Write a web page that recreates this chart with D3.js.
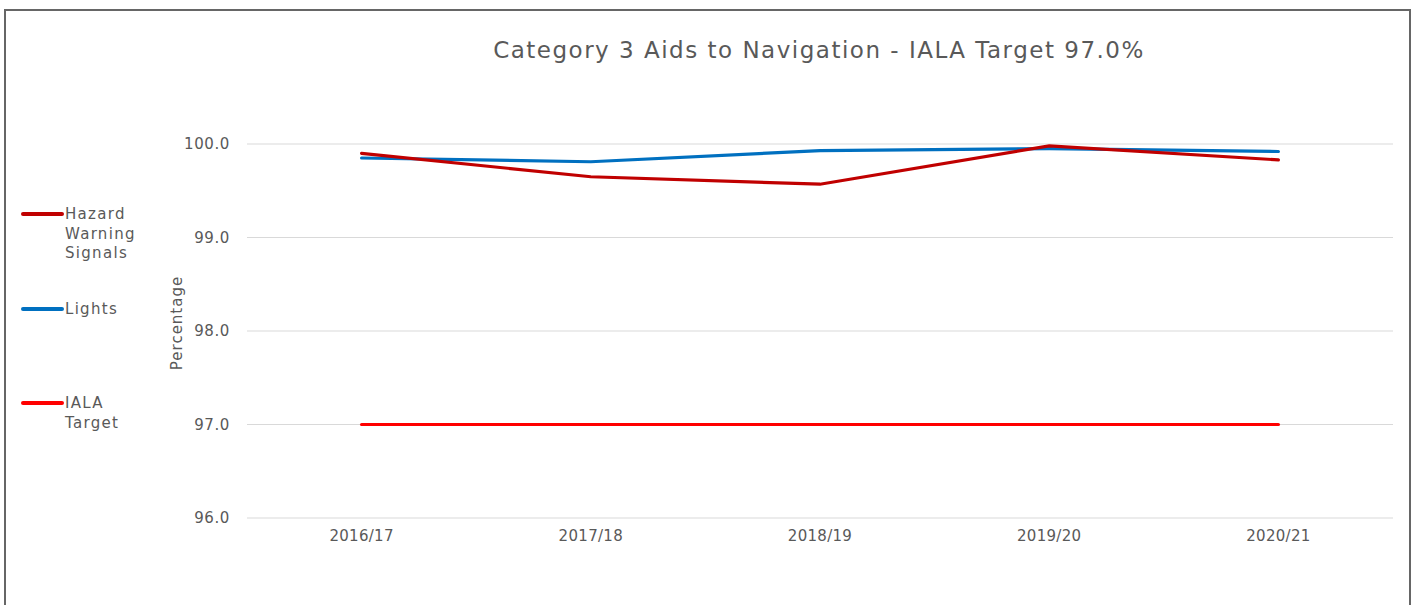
<!DOCTYPE html>
<html>
<head>
<meta charset="utf-8">
<script src="https://cdn.jsdelivr.net/npm/d3@7"></script>
<style>
  body { margin: 0; background: #fff; }
  text { font-family: "DejaVu Sans", sans-serif; fill: #595959; }
</style>
</head>
<body>
<div class="chart"></div>
<script>
var width = 1415,
    height = 605;

var years = ["2016/17", "2017/18", "2018/19", "2019/20", "2020/21"];
var hazard = [99.90, 99.65, 99.57, 99.98, 99.83];
var lights = [99.85, 99.81, 99.93, 99.95, 99.92];
var iala = [97.0, 97.0, 97.0, 97.0, 97.0];
var yTicks = [96, 97, 98, 99, 100];

var series = [
  {name: ["Hazard", "Warning", "Signals"], values: hazard, color: "#c00000", ly: 214},
  {name: ["Lights"], values: lights, color: "#0070c0", ly: 309},
  {name: ["IALA", "Target"], values: iala, color: "#ff0000", ly: 403}
];

var svg = d3.select(".chart").append("svg")
    .attr("width", width)
    .attr("height", height);

// outer frame
svg.append("rect")
    .attr("x", 5).attr("y", 10)
    .attr("width", 1405).attr("height", 620)
    .attr("fill", "none")
    .attr("stroke", "#666")
    .attr("stroke-width", 2);

var x = d3.scaleBand().domain(years).range([247, 1393]);
var y = d3.scaleLinear().domain([96, 100]).range([518, 144]);

// gridlines
svg.append("g").selectAll("line")
    .data(yTicks)
  .enter().append("line")
    .attr("x1", 247).attr("x2", 1393)
    .attr("y1", function(d) { return y(d); })
    .attr("y2", function(d) { return y(d); })
    .attr("stroke", "#d9d9d9")
    .attr("stroke-width", 1);

// y axis labels
var yAxis = d3.axisLeft(y).tickValues(yTicks).tickFormat(d3.format(".1f")).tickSize(0).tickPadding(17);
svg.append("g")
    .attr("transform", "translate(247,0)")
    .call(yAxis)
    .call(function(g) { g.select(".domain").remove(); })
    .selectAll("text")
    .attr("font-size", 15)
    .attr("font-family", "DejaVu Sans, sans-serif")
    .attr("letter-spacing", 0.6)
    .attr("fill", "#595959");

// x axis labels
var xAxis = d3.axisBottom(x).tickSize(0).tickPadding(12);
svg.append("g")
    .attr("transform", "translate(0,518)")
    .call(xAxis)
    .call(function(g) { g.select(".domain").remove(); })
    .selectAll("text")
    .attr("font-size", 15)
    .attr("font-family", "DejaVu Sans, sans-serif")
    .attr("letter-spacing", 0.3)
    .attr("fill", "#595959");

// lines
var line = d3.line()
    .x(function(d, i) { return x(years[i]) + x.bandwidth() / 2; })
    .y(function(d) { return y(d); });

svg.append("g").selectAll("path")
    .data(series.slice().reverse())
  .enter().append("path")
    .attr("d", function(d) { return line(d.values); })
    .attr("fill", "none")
    .attr("stroke", function(d) { return d.color; })
    .attr("stroke-width", 3.2)
    .attr("stroke-linecap", "round");

// title
svg.append("text")
    .attr("x", 819).attr("y", 58)
    .attr("text-anchor", "middle")
    .attr("font-size", 23)
    .attr("letter-spacing", 1.5)
    .text("Category 3 Aids to Navigation - IALA Target 97.0%");

// y title
svg.append("text")
    .attr("transform", "translate(182,323)rotate(-90)")
    .attr("text-anchor", "middle")
    .attr("font-size", 15)
    .attr("letter-spacing", 1)
    .text("Percentage");

// legend
var legend = svg.append("g").selectAll("g")
    .data(series)
  .enter().append("g")
    .attr("transform", function(d) { return "translate(0," + d.ly + ")"; });

legend.append("line")
    .attr("x1", 23).attr("x2", 62)
    .attr("y1", 0).attr("y2", 0)
    .attr("stroke", function(d) { return d.color; })
    .attr("stroke-width", 4)
    .attr("stroke-linecap", "round");

legend.append("text")
    .attr("x", 65)
    .attr("font-size", 15)
    .attr("letter-spacing", 1.3)
    .selectAll("tspan")
    .data(function(d) { return d.name; })
  .enter().append("tspan")
    .attr("x", 65)
    .attr("y", function(d, i) { return 5 + i * 19.5; })
    .text(function(d) { return d; });
</script>
</body>
</html>
